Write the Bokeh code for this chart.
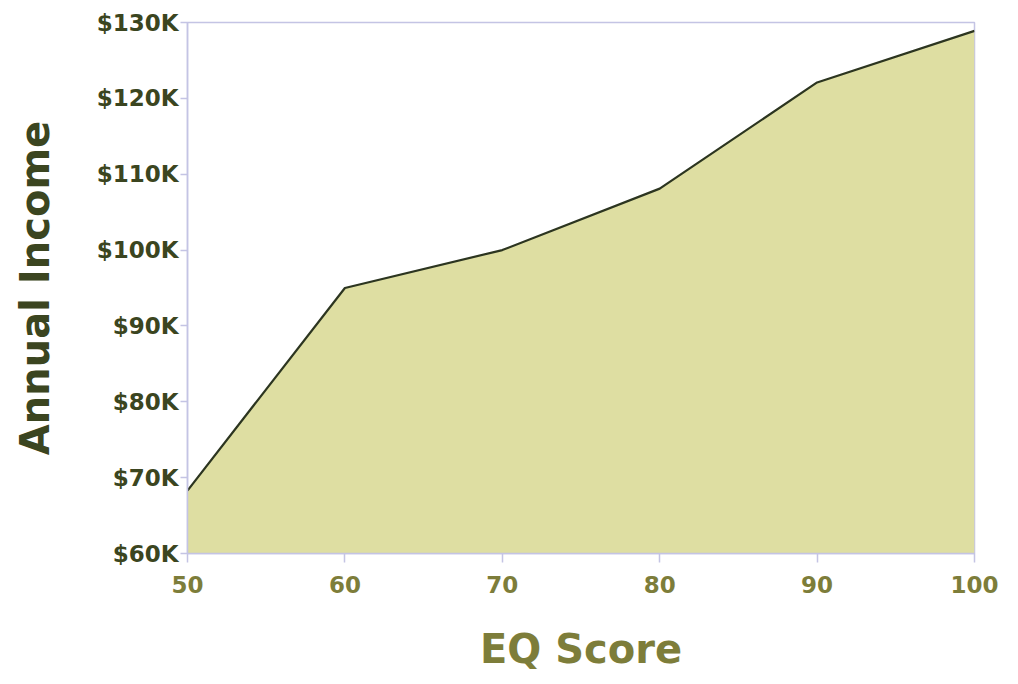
from bokeh.plotting import figure
from bokeh.models import PrintfTickFormatter, FixedTicker, Range1d
from bokeh.embed import file_html
from bokeh.resources import INLINE

eq_scores = [50, 60, 70, 80, 90, 100]
income_k = [68.3, 95.0, 100.0, 108.1, 122.1, 128.9]
y_ticks = [60, 70, 80, 90, 100, 110, 120, 130]

AXIS_C = "#c4c4e4"
DARK = "#3b4520"
OLIVE = "#7d7d3a"
FONT = "DejaVu Sans"

p = figure(width=1002, height=676, output_backend="svg", toolbar_location=None,
           x_range=Range1d(50, 100), y_range=Range1d(60, 130),
           min_border_left=187, min_border_right=28, min_border_top=22, min_border_bottom=123)

p.varea(x=eq_scores, y1=[y_ticks[0]] * len(eq_scores), y2=income_k, fill_color="#dedea2")
p.line(x=eq_scores, y=income_k, line_color="#2c3520", line_width=2.2)

p.xgrid.visible = False
p.ygrid.visible = False
p.outline_line_color = AXIS_C
p.outline_line_width = 1.5

p.xaxis.ticker = FixedTicker(ticks=eq_scores)
p.yaxis.ticker = FixedTicker(ticks=y_ticks)
p.yaxis.formatter = PrintfTickFormatter(format="$%dK")

for ax in (p.xaxis[0], p.yaxis[0]):
    ax.axis_line_color = AXIS_C
    ax.axis_line_width = 1.5
    ax.major_tick_line_color = AXIS_C
    ax.major_tick_line_width = 1.5
    ax.minor_tick_line_color = None
    ax.major_tick_in = 0
    ax.major_label_text_font = FONT
    ax.major_label_text_font_style = "bold"
    ax.major_label_text_font_size = "23px"
    ax.axis_label_text_font = FONT
    ax.axis_label_text_font_style = "bold"
    ax.axis_label_text_font_size = "40px"

p.xaxis.major_tick_out = 9
p.xaxis.major_label_standoff = 13
p.xaxis.major_label_text_color = OLIVE
p.xaxis.axis_label = "EQ Score"
p.xaxis.axis_label_text_color = OLIVE
p.xaxis.axis_label_standoff = 30

p.yaxis.major_tick_out = 7
p.yaxis.major_label_standoff = 2
p.yaxis.major_label_text_color = DARK
p.yaxis.axis_label = "Annual Income"
p.yaxis.axis_label_text_color = DARK
p.yaxis.axis_label_standoff = 36

open("out.html", "w").write(file_html(p, INLINE))
